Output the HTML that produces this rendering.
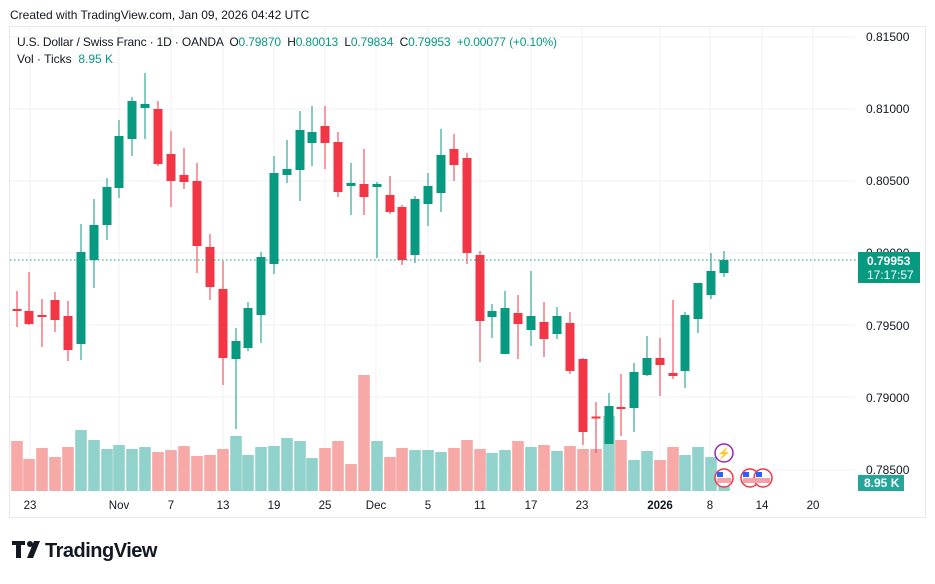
<!DOCTYPE html>
<html><head><meta charset="utf-8"><style>
body{margin:0;background:#fff;width:935px;height:579px;overflow:hidden;font-family:"Liberation Sans",sans-serif}
svg text{font-family:"Liberation Sans",sans-serif;white-space:pre}
</style></head><body>
<svg width="935" height="579" viewBox="0 0 935 579" xmlns="http://www.w3.org/2000/svg">
<text x="10" y="19" font-size="12" fill="#131722">Created with TradingView.com, Jan 09, 2026 04:42 UTC</text>
<rect x="9.5" y="26.5" width="916" height="491" fill="#fff" stroke="#e6e8ee"/>
<g stroke="#f0f1f4" stroke-width="1">
<line x1="10" x2="855" y1="109" y2="109"/><line x1="10" x2="855" y1="181" y2="181"/><line x1="10" x2="855" y1="253" y2="253"/><line x1="10" x2="855" y1="325" y2="325"/><line x1="10" x2="855" y1="397" y2="397"/><line x1="10" x2="855" y1="470" y2="470"/><line x1="10" x2="855" y1="37" y2="37"/>
<line x1="30" x2="30" y1="27" y2="491"/><line x1="119" x2="119" y1="27" y2="491"/><line x1="171" x2="171" y1="27" y2="491"/><line x1="223" x2="223" y1="27" y2="491"/><line x1="274" x2="274" y1="27" y2="491"/><line x1="325" x2="325" y1="27" y2="491"/><line x1="376" x2="376" y1="27" y2="491"/><line x1="428" x2="428" y1="27" y2="491"/><line x1="480" x2="480" y1="27" y2="491"/><line x1="531" x2="531" y1="27" y2="491"/><line x1="582" x2="582" y1="27" y2="491"/><line x1="660" x2="660" y1="27" y2="491"/><line x1="710" x2="710" y1="27" y2="491"/><line x1="762" x2="762" y1="27" y2="491"/><line x1="813" x2="813" y1="27" y2="491"/>
</g>
<g id="vol"></g>
<g id="c"></g>
<line x1="10" x2="856" y1="260" y2="260" stroke="#089981" stroke-dasharray="1.5,2.5"/>
<text x="17" y="46" font-size="12" fill="#131722" textLength="540" lengthAdjust="spacing">U.S. Dollar / Swiss Franc · 1D · OANDA  O<tspan fill="#089981">0.79870</tspan>  H<tspan fill="#089981">0.80013</tspan>  L<tspan fill="#089981">0.79834</tspan>  C<tspan fill="#089981">0.79953  +0.00077 (+0.10%)</tspan></text>
<text x="17" y="63" font-size="12" fill="#131722">Vol · Ticks  <tspan fill="#089981">8.95 K</tspan></text>
<g font-size="12" fill="#131722">
<text x="866" y="41">0.81500</text><text x="866" y="113">0.81000</text><text x="866" y="185">0.80500</text><text x="866" y="257">0.80000</text><text x="866" y="330">0.79500</text><text x="866" y="402">0.79000</text><text x="866" y="474">0.78500</text>
</g>
<rect x="858" y="252" width="62" height="31" fill="#089981"/>
<text x="867" y="265" font-size="12" font-weight="bold" fill="#fff">0.79953</text>
<text x="867" y="279" font-size="12" fill="#fff">17:17:57</text>
<rect x="858" y="475" width="46" height="16" fill="#26a69a"/>
<text x="864" y="487" font-size="12" font-weight="bold" fill="#fff">8.95 K</text>
<g font-size="11.5" fill="#131722" text-anchor="middle">
<text x="30" y="509">23</text><text x="119" y="509">Nov</text><text x="171" y="509">7</text><text x="223" y="509">13</text><text x="274" y="509">19</text><text x="325" y="509">25</text><text x="376" y="509">Dec</text><text x="428" y="509">5</text><text x="480" y="509">11</text><text x="531" y="509">17</text><text x="582" y="509">23</text><text x="660" y="509" font-weight="bold">2026</text><text x="710" y="509">8</text><text x="762" y="509">14</text><text x="813" y="509">20</text>
</g>
<circle cx="724" cy="453" r="9" fill="#fff" stroke="#9c27b0" stroke-width="1.5"/>
<text x="724" y="457" font-size="11" fill="#9c27b0" text-anchor="middle">⚡</text>
<g stroke="#f23645" stroke-width="1.5" fill="#fff">
<circle cx="724" cy="478" r="9"/><circle cx="750" cy="478" r="9"/><circle cx="763" cy="478" r="9"/>
</g>
<g fill="#f7a1a8"><rect x="717" y="478" width="14" height="5"/><rect x="743" y="478" width="14" height="5"/><rect x="756" y="478" width="14" height="5"/></g>
<g fill="#2962ff"><rect x="717" y="472" width="6" height="5"/><rect x="743" y="472" width="6" height="5"/><rect x="756" y="472" width="6" height="5"/></g>
<g transform="translate(12,541)" fill="#131722">
<path d="M0 0h13v4h-4v13h-5v-13h-4z"/><circle cx="18" cy="3" r="3"/><path d="M22 0h6l-7 17h-6z"/>
<text x="33" y="16" font-size="20" font-weight="bold" letter-spacing="-0.5">TradingView</text>
</g>
<script>
var c=[
[17,309,309.5,291,327,0],[29,311,324,272,325,0],[42,315,315.5,299,347,0],[55,300,320,292,332,0],[68,316,350,301,361,0],
[81,344,252,224,360,1],[94,260,225,199,288,1],[107,225,187,178,240,1],[119,188,136,120,198,1],[132,139,101,97,156,1],[145,108,104,73,139,1],
[158,109,164,101,166,0],[171,154,181,131,207,0],[184,175,182,148,189,0],[197,181,246,163,273,0],[210,247,287,234,300,0],[223,289,358,261,385,0],
[236,359,341,328,429,1],[248,348,308,302,351,1],[261,315,257,252,343,1],[274,264,173,156,274,1],[287,175,169,140,183,1],[300,170,130,111,201,1],[312,143,132,106,166,1],
[325,126,143,106,169,0],[338,142,192,132,197,0],[351,186,183,163,215,1],[364,184,197,149,215,0],[377,187,184,182,258,1],[390,195,212,176,214,0],[402,207,260,205,265,0],
[415,255,199,196,263,1],[428,204,186,173,226,1],[441,193,155,129,212,1],[454,149,165,134,181,0],[467,158,253,153,264,0],[480,255,321,251,362,0],
[492,317,311,304,338,1],[505,354,308,291,354,1],[518,313,324,295,359,0],[531,330,316,271,346,1],[544,322,339,302,357,0],[557,334,316,307,339,1],
[570,323,371,312,374,0],[583,359,432,358,445,0],[596,416.5,418,402,453,0],[609,444,406,393,444,1],[621,407,409,374,436,0],[634,408,372,363,432,1],
[647,375,358,336,376,1],[660,358,365,338,396,0],[673,373,376,300,379,0],[685,371,315,312,388,1],[698,319,283,283,333,1],[711,295,271,253,299,1],[724,273,260,251,277,1]];
var v=[441,459,448,457,447,430,440,449,445,449,447,452,450,446,456,455,449,436,455,447,446,438,441,458,448,441,464,375,441,457,448,450,450,452,448,440,449,453,450,441,447,445,451,446,449,449,416,440,460,451,460,447,455,447,457,470];
var vc=[0,0,0,0,0,1,1,1,1,1,1,0,0,0,0,0,0,1,1,1,1,1,1,1,0,0,0,0,1,0,0,1,1,1,0,0,0,1,1,0,1,0,1,0,0,0,1,0,1,1,0,0,1,1,1,1];
var ns="http://www.w3.org/2000/svg",G=document.getElementById("c"),V=document.getElementById("vol");
function el(p,t,a){var e=document.createElementNS(ns,t);for(var k in a)e.setAttribute(k,a[k]);p.appendChild(e);}
c.forEach(function(d,i){
 var col=d[5]?"#089981":"#f23645";
 el(V,"rect",{x:d[0]-5.8,y:v[i],width:11.6,height:491-v[i],fill:vc[i]?"#92d2cc":"#f7a9a7"});
 el(G,"line",{x1:d[0],x2:d[0],y1:d[3],y2:d[4],stroke:col,"stroke-width":1});
 var t=Math.min(d[1],d[2]),h=Math.max(Math.abs(d[1]-d[2]),2);
 el(G,"rect",{x:d[0]-4.5,y:t,width:9,height:h,fill:col});
});
</script>
</svg>
</body></html>
